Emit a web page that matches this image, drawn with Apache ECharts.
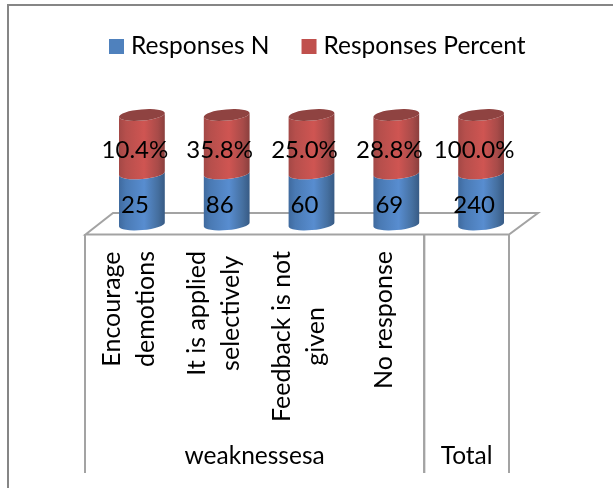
<!DOCTYPE html>
<html>
<head>
<meta charset="utf-8">
<style>html,body{margin:0;padding:0;background:#fff}#chart{width:613px;height:488px}</style>
<script src="https://cdn.jsdelivr.net/npm/echarts@6/dist/echarts.min.js"></script>
</head>
<body>
<div id="chart"></div>
<script>
// Responses to the question on weaknesses, with the overall total
const categories = ['Encourage\ndemotions', 'It is applied\nselectively', 'Feedback is not\ngiven', 'No response', ''];
const responsesN = [25, 86, 60, 69, 240];
const responsesPercent = [10.4, 35.8, 25.0, 28.8, 100.0];
const groups = [
  { name: 'weaknessesa', from: 0, to: 3 },
  { name: 'Total', from: 4, to: 4 }
];
const totalN = 240;
const totalPercent = 100;

const FONT = 'Lato, Carlito, Calibri, sans-serif';
const GREY = '#a3a3a3';

// Each series as a share of its own total, then each column stacked to 100%
function blueShare(i) {
  const a = responsesN[i] / totalN;
  const b = responsesPercent[i] / totalPercent;
  return a / (a + b);
}
// Height compression of the tilted 3D view
const foreshorten = v => Math.pow(v, 1.1);

const RY = 5.6, TILT = 2, LABEL_DX = -7, LABEL_DY = 6.5;

function cylinderPart(colors, withCap, capColor) {
  return function (params, api) {
    const x = api.coord([api.value(0), 0])[0];
    const rx = api.size([1, 0])[0] * 0.27;
    const y0 = api.coord([0, foreshorten(api.value(1))])[1];
    const y1 = api.coord([0, foreshorten(api.value(2))])[1];
    const l = x - rx, r = x + rx;
    const body = `M${l} ${y0 + TILT} A${rx} ${RY} -5 0 0 ${r} ${y0 - TILT} L${r} ${y1 - TILT} A${rx} ${RY} -5 0 1 ${l} ${y1 + TILT} Z`;
    const children = [{
      type: 'path',
      shape: { pathData: body },
      style: {
        fill: new echarts.graphic.LinearGradient(0, 0, 1, 0, colors)
      }
    }];
    if (withCap) {
      const cap = `M${l} ${y1 + TILT} A${rx} ${RY} -5 0 1 ${r} ${y1 - TILT} A${rx} ${RY} -5 0 1 ${l} ${y1 + TILT} Z`;
      children.push({ type: 'path', shape: { pathData: cap }, style: { fill: capColor } });
    }
    children.push({
      type: 'text',
      z2: 10,
      style: {
        x: x + LABEL_DX,
        y: (y0 + y1) / 2 + LABEL_DY,
        text: params.seriesIndex === 0
          ? String(responsesN[params.dataIndex])
          : responsesPercent[params.dataIndex].toFixed(1) + '%',
        align: 'center',
        verticalAlign: 'middle',
        fill: '#000',
        font: `24px ${FONT}`
      }
    });
    return { type: 'group', children };
  };
}

const blueStops = [
  { offset: 0, color: '#3f6a9e' }, { offset: 0.15, color: '#4a7ab4' },
  { offset: 0.55, color: '#588dd0' }, { offset: 0.85, color: '#456f9f' },
  { offset: 1, color: '#375a84' }
];
const redStops = [
  { offset: 0, color: '#a34846' }, { offset: 0.15, color: '#b64f4c' },
  { offset: 0.55, color: '#cf5552' }, { offset: 0.85, color: '#a84b49' },
  { offset: 1, color: '#8a3f3d' }
];

const chart = echarts.init(document.getElementById('chart'), null, { renderer: 'canvas' });
chart.setOption({
  animation: false,
  backgroundColor: '#fff',
  legend: {
    left: 109, top: 34, padding: 0,
    itemWidth: 15, itemHeight: 15, itemGap: 32,
    icon: 'rect',
    textStyle: { fontFamily: FONT, fontSize: 24.5, color: '#000', padding: [0, 0, 0, 2] },
    data: ['Responses N', 'Responses Percent']
  },
  grid: [
    { left: 87, width: 424, top: 234, height: 1 },
    { left: 99.5, width: 424, top: 115, height: 109.5 },
    { left: 85, width: 424, top: 234, height: 239 }
  ],
  xAxis: [
    {
      gridIndex: 0, type: 'category', data: categories,
      axisTick: { show: false },
      axisLine: { show: false },
      axisLabel: {
        interval: 0, rotate: 90, margin: 16, color: '#000',
        fontFamily: FONT, fontSize: 25, lineHeight: 34,
        formatter: v => v.split('\n').map(s => `{c|${s}}`).join('\n'),
        rich: { c: { align: 'center', fontFamily: FONT, fontSize: 25, lineHeight: 34, color: '#000' } }
      }
    },
    { gridIndex: 1, type: 'category', data: categories, show: false },
    { gridIndex: 2, type: 'category', data: categories, show: false }
  ],
  yAxis: [
    { gridIndex: 0, type: 'value', show: false },
    { gridIndex: 1, type: 'value', show: false, min: 0, max: 1 },
    { gridIndex: 2, type: 'value', show: false, min: 0, max: 1 }
  ],
  series: [
    {
      type: 'custom', name: 'Responses N', xAxisIndex: 1, yAxisIndex: 1, z: 3,
      itemStyle: { color: '#4f81bd' },
      renderItem: cylinderPart(blueStops, false),
      encode: { x: 0, y: 2 },
      data: responsesN.map((v, i) => [i, 0, blueShare(i), v])
    },
    {
      type: 'custom', name: 'Responses Percent', xAxisIndex: 1, yAxisIndex: 1, z: 4,
      itemStyle: { color: '#c0504d' },
      renderItem: cylinderPart(redStops, true, '#8f4341'),
      encode: { x: 0, y: 2 },
      data: responsesPercent.map((v, i) => [i, blueShare(i), 1, v])
    },
    {
      // Second-level category labels with their separators
      type: 'custom', xAxisIndex: 2, yAxisIndex: 2, z: 1, silent: true,
      renderItem: function (params, api) {
        const g = groups[params.dataIndex];
        const band = api.size([1, 0])[0];
        const rect = params.coordSys;
        const left = api.coord([g.from, 0])[0] - band / 2;
        const right = api.coord([g.to, 0])[0] + band / 2;
        const line = x => ({
          type: 'line',
          shape: { x1: x, y1: rect.y, x2: x, y2: rect.y + rect.height },
          style: { stroke: GREY, lineWidth: 2 }
        });
        return {
          type: 'group',
          children: [line(left), line(right), {
            type: 'text',
            style: {
              x: (left + right) / 2, y: 456, text: g.name,
              align: 'center', verticalAlign: 'middle',
              fill: '#000', font: `24.5px ${FONT}`
            }
          }]
        };
      },
      encode: { x: 0 },
      data: groups.map(g => [g.from])
    }
  ],
  graphic: [
    // Chart frame
    { type: 'polyline', z: 0, shape: { points: [[8, 488], [8, 5], [613, 5]] }, style: { stroke: '#868686', lineWidth: 2, fill: null } },
    // Floor of the 3D plot
    { type: 'polygon', z: 0, shape: { points: [[85.5, 234.5], [113, 213], [538, 213], [509, 234.5]] }, style: { stroke: GREY, lineWidth: 2, fill: null } }
  ]
});
</script>
</body>
</html>
